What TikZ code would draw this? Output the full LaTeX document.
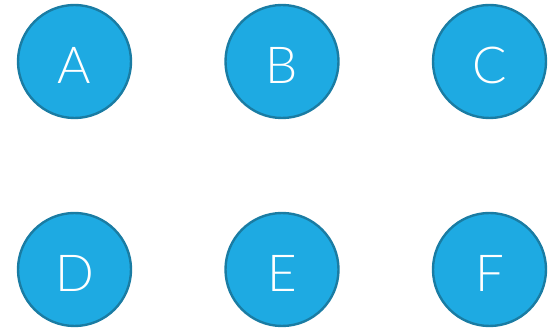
\documentclass[tikz,border=0pt]{standalone}
\usepackage{fontspec}
\setmainfont{Lato Light}
\definecolor{fillblue}{HTML}{1EAAE2}
\definecolor{edgeblue}{HTML}{1A7CA3}
\begin{document}
\begin{tikzpicture}[x=1pt,y=1pt,
  disc/.style={circle,draw=edgeblue,fill=fillblue,line width=2.4pt,minimum size=113pt,inner sep=0pt,text=white,text depth=0pt,font=\fontsize{51}{51}\selectfont}]
\useasboundingbox (0,0) rectangle (551,329);
\node[disc] (A) at (74.5,267.5) {\raisebox{-8pt}{A}};
\node[disc] (B) at (282,267.5) {\raisebox{-8pt}{B}};
\node[disc] (C) at (489.5,267.5) {\raisebox{-8pt}{C}};
\node[disc] (D) at (74.5,59.5) {\raisebox{-8pt}{D}};
\node[disc] (E) at (282,59.5) {\raisebox{-8pt}{E}};
\node[disc] (F) at (489.5,59.5) {\raisebox{-8pt}{F}};
\end{tikzpicture}
\end{document}
